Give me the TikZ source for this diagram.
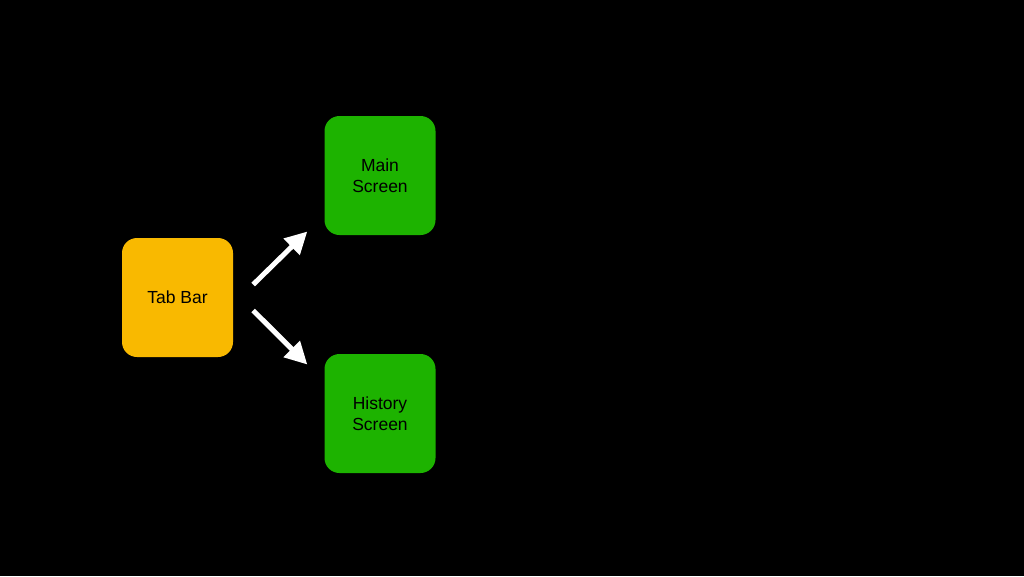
\documentclass[tikz,border=0pt]{standalone}
\usepackage{fontspec}
\setmainfont{Liberation Sans}
\usetikzlibrary{arrows.meta}

\definecolor{tabyellow}{HTML}{F9B900}
\definecolor{screengreen}{HTML}{1DB300}

\tikzset{
  screenbox/.style={rounded corners=15pt,minimum width=111pt,minimum height=119pt,
    align=center,font=\fontsize{17.5}{21}\selectfont,text=black,inner sep=0pt},
  whitearrow/.style={draw=white,line width=5pt,-{Triangle[length=22pt,width=22pt]}}
}

\begin{document}
\begin{tikzpicture}[x=1pt,y=-1pt]
\fill[black] (0,0) rectangle (1024,576);

\node[screenbox,fill=tabyellow] (tab) at (177.5,297.5) {Tab Bar};
\node[screenbox,fill=screengreen] (main) at (380,175.5) {Main\\Screen};
\node[screenbox,fill=screengreen] (history) at (380,413.5) {History\\Screen};

\draw[whitearrow] ([shift={(20,-13)}]tab.east) -- ([shift={(-17,56)}]main.west);
\draw[whitearrow] ([shift={(20,13)}]tab.east) -- ([shift={(-17,-49)}]history.west);

\end{tikzpicture}
\end{document}
